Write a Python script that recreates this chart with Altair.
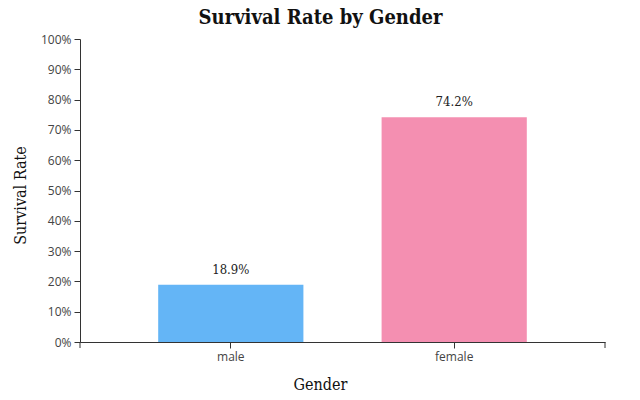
import altair as alt
import pandas as pd

genders = ["male", "female"]
rates = [0.189, 0.742]
colors = ["#64B5F6", "#F48FB1"]
y_ticks = [0.0, 0.1, 0.2, 0.3, 0.4, 0.5, 0.6, 0.7, 0.8, 0.9, 1.0]

df = pd.DataFrame({"Gender": genders, "Rate": rates})
df["Label"] = [f"{r*100:.1f}%" for r in rates]

W, H = 525, 303
SERIF = "DejaVu Serif Condensed"

x = alt.X("Gender:N", sort=genders,
          scale=alt.Scale(paddingInner=0.35, paddingOuter=0.35),
          axis=alt.Axis(title="Gender", labelAngle=0, labelFont="Open Sans",
                        labelFontSize=12, labelColor="#444", domainColor="#333",
                        tickColor="#333", tickSize=6, labelPadding=3,
                        titleFont=SERIF, titleFontSize=16, titleFontWeight="normal",
                        titleColor="#111", titleX=240, titleY=50, titleBaseline="bottom"))
y = alt.Y("Rate:Q", scale=alt.Scale(domain=[0, 1]),
          axis=alt.Axis(title="Survival Rate", format=".0%",
                        values=y_ticks, tickCount=11, labelOverlap=False,
                        labelFont="Open Sans", labelFontSize=12, labelColor="#444",
                        domainColor="#333", tickColor="#333", tickSize=6, grid=False,
                        labelPadding=3,
                        titleFont=SERIF, titleFontSize=16, titleFontWeight="normal",
                        titleColor="#111", titleX=-52, titleY=156, titleBaseline="bottom"))

bars = alt.Chart(df).mark_bar().encode(
    x=x, y=y,
    color=alt.Color("Gender:N", scale=alt.Scale(domain=genders, range=colors), legend=None),
)
text = alt.Chart(df).mark_text(dy=-8, baseline="bottom", font=SERIF,
                               fontSize=13, color="#222").encode(
    x=x, y=y, text="Label:N")

edge = pd.DataFrame({"px": [0, W]})
outer = alt.Chart(edge).mark_rule(color="#333").encode(
    x=alt.X("px:Q", scale=None), y=alt.value(H), y2=alt.value(H + 6))

chart = alt.layer(bars, text, outer).properties(
    width=W, height=H,
    title=alt.TitleParams("Survival Rate by Gender", font=SERIF, fontSize=20,
                          fontWeight="bold", color="#111", offset=5, dx=-22),
    autosize=alt.AutoSizeParams(type="none"),
    padding={"left": 72, "top": 31, "right": 27, "bottom": 60},
).configure_view(stroke=None)

chart.save("out.html", embed_options={"renderer": "svg", "actions": False})
